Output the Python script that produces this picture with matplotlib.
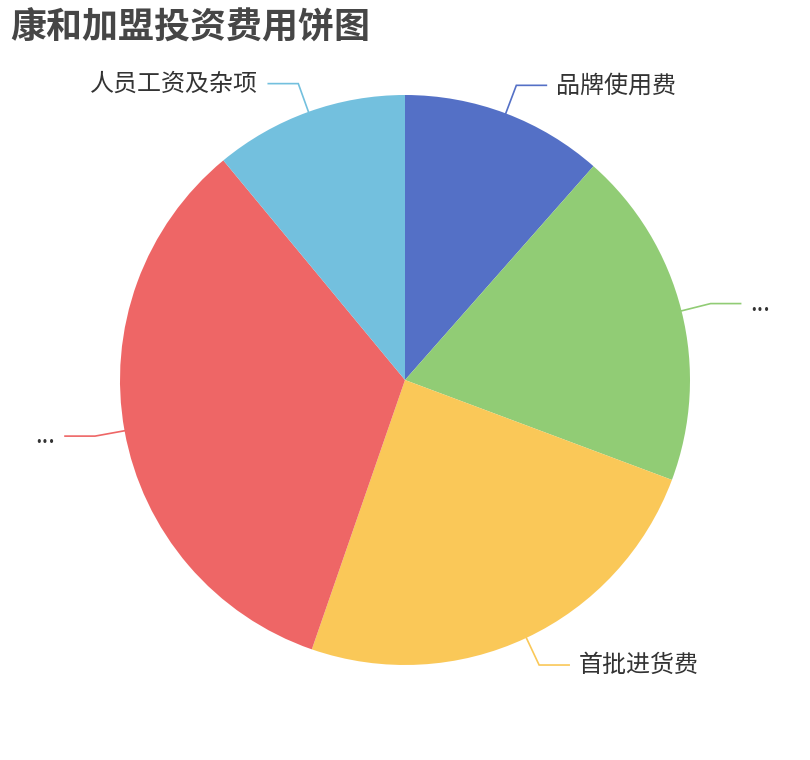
import numpy as np
import matplotlib
matplotlib.use('Agg')
import matplotlib.pyplot as plt

plt.rcParams['font.family'] = ['Noto Sans CJK SC', 'DejaVu Sans']

# slice data, clockwise from 12 o'clock
names = ['品牌使用费', '...', '首批进货费', '...', '人员工资及杂项']
values = [11.5, 19.2, 24.6, 33.7, 11.0]
colors = ['#5470c6', '#91cc75', '#fac858', '#ee6666', '#73c0de']
title = '康和加盟投资费用饼图'

W, H = 810, 760
fig = plt.figure(figsize=(W/100, H/100), dpi=100)
ax = fig.add_axes([0, 0, 1, 1])

cx, cy, r = 405, H - 380, 285
wedges, _ = ax.pie(values, colors=colors, startangle=90, counterclock=False,
                   center=(cx, cy), radius=r, wedgeprops=dict(linewidth=0),
                   frame=True)
ax.set_xlim(0, W)
ax.set_ylim(0, H)
ax.set_aspect('equal')
ax.axis('off')

# label lines like echarts: radial segment then horizontal one
for w, name, c in zip(wedges, names, colors):
    a = np.deg2rad((w.theta1 + w.theta2) / 2)
    x0, y0 = cx + r*np.cos(a), cy + r*np.sin(a)
    x1, y1 = cx + (r+30)*np.cos(a), cy + (r+30)*np.sin(a)
    d = 1 if np.cos(a) >= 0 else -1
    x2 = x1 + d*30
    ax.plot([x0, x1, x2], [y0, y1, y1], color=c, lw=1.2, solid_joinstyle='miter')
    ax.text(x2 + d*10, y1, name, fontsize=17.3, color='#333333',
            ha='left' if d > 0 else 'right', va='center')

ax.text(10, H - 28, title, fontsize=25.9, fontweight='bold', color='#464646',
        ha='left', va='center')

fig.savefig('out.png', dpi=100)
